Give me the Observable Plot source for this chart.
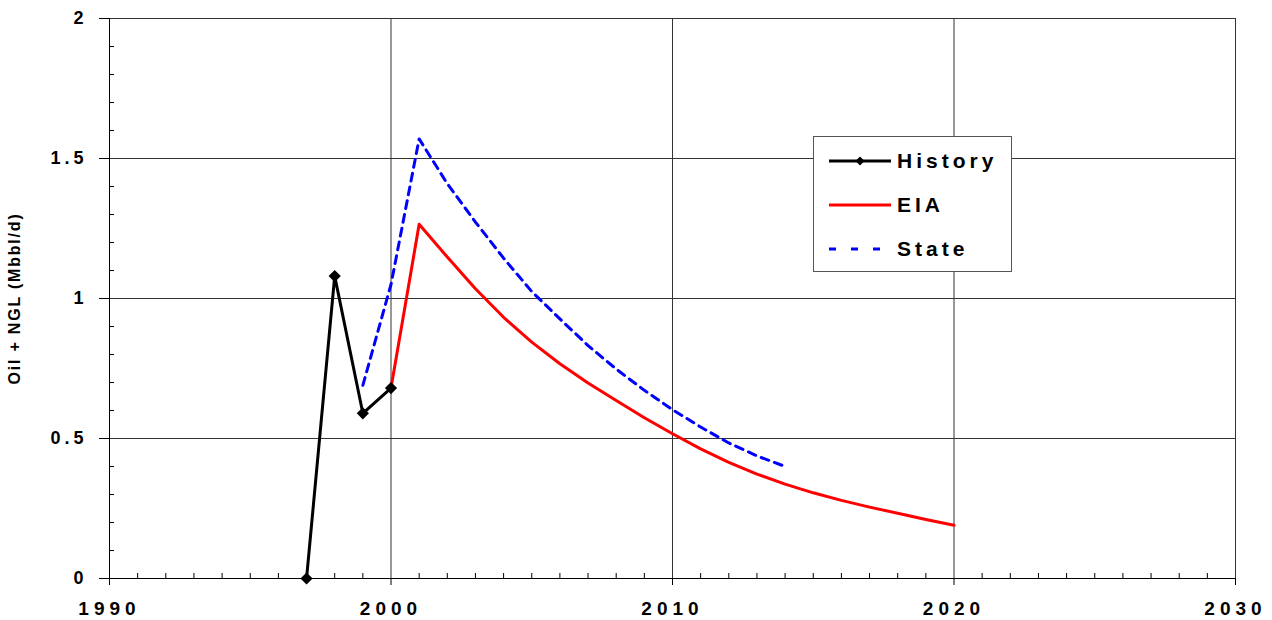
<!DOCTYPE html>
<html>
<head>
<meta charset="utf-8">
<script src="https://cdn.jsdelivr.net/npm/d3@7"></script>
<script src="https://cdn.jsdelivr.net/npm/@observablehq/plot@0.6"></script>
<style>
  html, body { margin: 0; padding: 0; background: #fff; }
  body { font-family: "Liberation Sans", Arial, sans-serif; }
  #wrap { position: relative; width: 1272px; height: 620px; overflow: hidden; }
  #wrap svg g[aria-label="x-axis tick label"] text { letter-spacing: 5px; }
  #wrap svg g[aria-label="y-axis tick label"] text { letter-spacing: 4px; }
  #wrap svg g.ytitle text { letter-spacing: 1.8px; }
  .legend { position: absolute; left: 813px; top: 136px; width: 197px; height: 134px;
            border: 1.5px solid #555; background: #fff; box-sizing: content-box; }
  .legend .row { position: absolute; left: 15px; height: 30px; display: flex; align-items: center; }
  .legend .row span { margin-left: 6px; font-weight: bold; font-size: 21px; letter-spacing: 4px; color: #000; }
</style>
</head>
<body>
<div id="wrap"></div>
<script>
// ---- data ----
const historyYears = [1997, 1998, 1999, 2000];
const historyValues = [0, 1.08, 0.59, 0.68];

const eiaYears = [2000, 2001, 2002, 2003, 2004, 2005, 2006, 2007, 2008, 2009, 2010,
                  2011, 2012, 2013, 2014, 2015, 2016, 2017, 2018, 2019, 2020];
const eiaValues = [0.68, 1.265, 1.148, 1.035, 0.933, 0.844, 0.767, 0.698, 0.636, 0.574, 0.517,
                   0.463, 0.415, 0.373, 0.337, 0.306, 0.279, 0.255, 0.233, 0.211, 0.19];

const stateYears = [1999, 2000, 2001, 2002, 2003, 2004, 2005, 2006, 2007, 2008, 2009,
                    2010, 2011, 2012, 2013, 2014];
const stateValues = [0.69, 1.05, 1.57, 1.41, 1.273, 1.144, 1.025, 0.927, 0.832, 0.748, 0.672,
                     0.603, 0.541, 0.484, 0.438, 0.40];

const xTicks = [1990, 2000, 2010, 2020, 2030];
const yTicks = [0, 0.5, 1, 1.5, 2];
const xGridLines = [2000, 2010, 2020, 2030];
const yGridLines = [0.5, 1, 1.5, 2];
const xMinor = d3.range(1991, 2030).filter(y => y % 10 !== 0);
const yMinor = d3.range(1, 20).filter(i => i % 5 !== 0).map(i => i / 10);
const yTitle = "Oil + NGL (Mbbl/d)";

const legendLabels = ["History", "EIA", "State"];
const legendColors = ["#000000", "#ff0000", "#0000ff"];

// ---- tables ----
const history = historyYears.map((x, i) => ({x, y: historyValues[i]}));
const eia = eiaYears.map((x, i) => ({x, y: eiaValues[i]}));
const state = stateYears.map((x, i) => ({x, y: stateValues[i]}));

const chart = Plot.plot({
  width: 1272,
  height: 620,
  marginLeft: 109,
  marginRight: 37,
  marginTop: 18,
  marginBottom: 42,
  style: { fontFamily: "'Liberation Sans', Arial, sans-serif", background: "white", overflow: "visible" },
  x: { domain: [1990, 2030] },
  y: { domain: [0, 2] },
  marks: [
    Plot.gridX(xGridLines, { stroke: "#333", strokeOpacity: 1, strokeWidth: 1 }),
    Plot.gridY(yGridLines, { stroke: "#333", strokeOpacity: 1, strokeWidth: 1 }),
    Plot.tickX(xMinor, { x: d => d, insetTop: 555, stroke: "#000" }),
    Plot.tickY(yMinor, { y: d => d, insetRight: 1121, stroke: "#000" }),
    Plot.axisX({ ticks: xTicks, tickSize: 7, tickPadding: 16, fontSize: 19, fontWeight: "bold",
                 tickFormat: d => String(d), label: null, stroke: "#000" }),
    Plot.axisY({ ticks: yTicks, tickSize: 10, tickPadding: 12, fontSize: 18, fontWeight: "bold",
                 tickFormat: d => String(d), label: null, stroke: "#000" }),
    Plot.ruleX([1990], { stroke: "#000" }),
    Plot.ruleY([0], { stroke: "#000" }),
    Plot.line(eia, { x: "x", y: "y", stroke: legendColors[1], strokeWidth: 3 }),
    Plot.line(state, { x: "x", y: "y", stroke: legendColors[2], strokeWidth: 3, strokeDasharray: "8,6" }),
    Plot.line(history, { x: "x", y: "y", stroke: legendColors[0], strokeWidth: 3 }),
    Plot.dot(history, { x: "x", y: "y", symbol: "diamond2", r: 5.5, fill: "#000", stroke: "none" }),
    Plot.text([yTitle], { text: d => d, frameAnchor: "left", textAnchor: "middle", dx: -95, rotate: -90,
                          fontSize: 16, fontWeight: "bold", fill: "#000", className: "ytitle" })
  ]
});

const wrap = document.getElementById("wrap");
wrap.appendChild(chart);

// ---- legend ----
const legend = document.createElement("div");
legend.className = "legend";
const rowCenters = [24, 68, 112];
legendLabels.forEach((label, i) => {
  const row = document.createElement("div");
  row.className = "row";
  row.style.top = (rowCenters[i] - 15) + "px";
  const ns = "http://www.w3.org/2000/svg";
  const sw = document.createElementNS(ns, "svg");
  sw.setAttribute("width", 62);
  sw.setAttribute("height", 14);
  const ln = document.createElementNS(ns, "line");
  ln.setAttribute("x1", 0); ln.setAttribute("x2", 62);
  ln.setAttribute("y1", 7); ln.setAttribute("y2", 7);
  ln.setAttribute("stroke", legendColors[i]);
  ln.setAttribute("stroke-width", 3);
  if (label === "State") ln.setAttribute("stroke-dasharray", "7,15");
  sw.appendChild(ln);
  if (label === "History") {
    const dm = document.createElementNS(ns, "path");
    dm.setAttribute("d", "M31,2.5 L35.5,7 L31,11.5 L26.5,7 Z");
    dm.setAttribute("fill", "#000");
    sw.appendChild(dm);
  }
  row.appendChild(sw);
  const t = document.createElement("span");
  t.textContent = label;
  row.appendChild(t);
  legend.appendChild(row);
});
wrap.appendChild(legend);
</script>
</body>
</html>
